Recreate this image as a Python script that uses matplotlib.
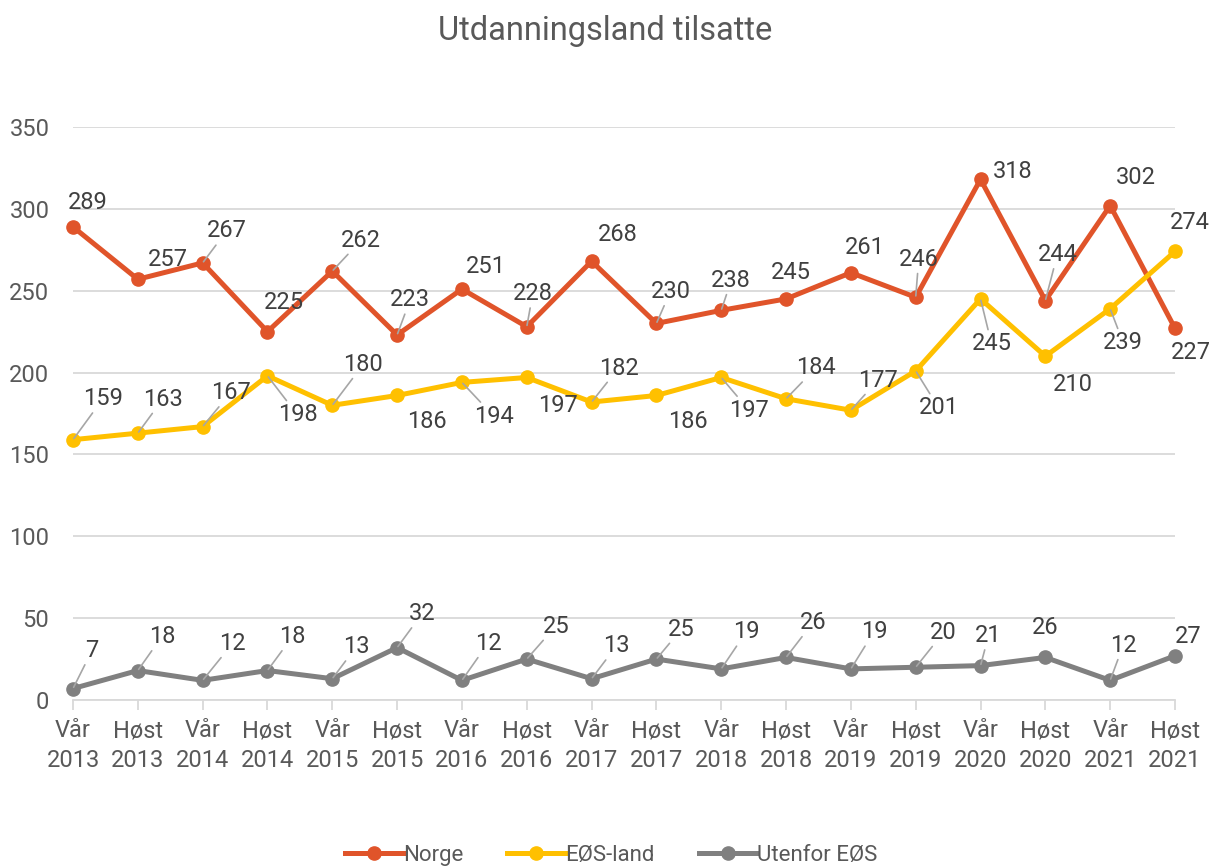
import matplotlib
matplotlib.use("Agg")
import matplotlib.pyplot as plt
from matplotlib.lines import Line2D

plt.rcParams['font.family'] = ['Roboto', 'DejaVu Sans']

categories = ["Vår\n2013", "Høst\n2013", "Vår\n2014", "Høst\n2014", "Vår\n2015", "Høst\n2015",
              "Vår\n2016", "Høst\n2016", "Vår\n2017", "Høst\n2017", "Vår\n2018", "Høst\n2018",
              "Vår\n2019", "Høst\n2019", "Vår\n2020", "Høst\n2020", "Vår\n2021", "Høst\n2021"]
norge = [289, 257, 267, 225, 262, 223, 251, 228, 268, 230, 238, 245, 261, 246, 318, 244, 302, 227]
eos = [159, 163, 167, 198, 180, 186, 194, 197, 182, 186, 197, 184, 177, 201, 245, 210, 239, 274]
utenfor = [7, 18, 12, 18, 13, 32, 12, 25, 13, 25, 19, 26, 19, 20, 21, 26, 12, 27]
series_names = ["Norge", "EØS-land", "Utenfor EØS"]
yticks = [0, 50, 100, 150, 200, 250, 300, 350]

colors = ["#E0542A", "#FFC000", "#808080"]

# label offsets in pixels (dx, dy with y up) and leader-line flags (layout only)
off_norge = [(15, 24), (30, 20), (24, 32), (16, 29), (29, 31), (13, 35), (24, 23), (6, 33),
             (26, 27), (14, 32), (10, 30), (5, 26), (14, 25), (3, 38), (32, 8), (12, 46),
             (26, 28), (16, -24)]
lead_norge = [0, 0, 1, 0, 1, 1, 0, 1, 0, 1, 1, 0, 0, 1, 0, 1, 0, 0]
off_eos = [(30, 41), (25, 34), (28, 34), (30, -39), (31, 41), (30, -26), (32, -34), (31, -28),
           (27, 34), (31, -26), (28, -33), (30, 31), (27, 30), (23, -37), (11, -45), (28, -28),
           (13, -34), (15, 29)]
lead_eos = [1, 1, 1, 1, 1, 0, 1, 0, 1, 0, 1, 1, 1, 1, 1, 0, 1, 0]
off_ut = [(19, 38), (24, 34), (30, 37), (25, 34), (24, 32), (25, 34), (26, 37), (29, 33),
          (25, 33), (25, 30), (25, 37), (27, 35), (23, 37), (28, 35), (8, 30), (0, 30),
          (13, 35), (13, 19)]
lead_ut = [1, 1, 1, 1, 1, 1, 1, 1, 1, 1, 1, 1, 1, 1, 1, 0, 1, 0]

W, H = 1210, 866
fig = plt.figure(figsize=(W / 100, H / 100), dpi=100)
left, right, top, bottom = 73, 1175, 127, 700
ax = fig.add_axes([left / W, 1 - bottom / H, (right - left) / W, (bottom - top) / H])

x = list(range(len(categories)))
ax.set_xlim(0, len(categories) - 1)
ax.set_ylim(0, 350)
ax.set_yticks(yticks)
ax.yaxis.grid(True, color="#D9D9D9", linewidth=1.3)
ax.set_axisbelow(True)
for s in ["top", "right", "left"]:
    ax.spines[s].set_visible(False)
ax.spines["bottom"].set_color("#D9D9D9")
ax.spines["bottom"].set_linewidth(1.3)
ax.set_xticks(x)
ax.set_xticklabels(categories, linespacing=1.38)
ax.tick_params(axis="x", length=7, width=1.3, color="#D9D9D9", pad=7,
               labelsize=17, labelcolor="#595959")
ax.tick_params(axis="y", length=0, pad=17, labelsize=17, labelcolor="#595959")

px = 72 / 100  # points per pixel
data_sets = [(norge, off_norge, lead_norge), (eos, off_eos, lead_eos), (utenfor, off_ut, lead_ut)]
for (vals, offs, leads), c, name in zip(data_sets, colors, series_names):
    ax.plot(x, vals, color=c, linewidth=3.6, marker="o", markersize=9.5,
            clip_on=False, label=name, zorder=3, solid_capstyle="round")
    for xi, v, (dx, dy), ld in zip(x, vals, offs, leads):
        kw = {}
        if ld:
            kw["arrowprops"] = dict(arrowstyle="-", color="#A6A6A6", lw=1.2,
                                    shrinkA=0, shrinkB=1)
        ax.annotate(str(v), xy=(xi, v), xytext=(dx * px, dy * px), textcoords="offset points",
                    ha="center", va="center", fontsize=17, color="#404040",
                    zorder=5, annotation_clip=False, **kw)

fig.text(0.5, 1 - 31 / H, "Utdanningsland tilsatte", ha="center", va="center",
         fontsize=23.5, color="#595959")

handles = [Line2D([0], [0], color=c, linewidth=3.6, marker="o", markersize=9.5) for c in colors]
fig.legend(handles, series_names, loc="center", bbox_to_anchor=(0.505, 1 - 855 / H),
           ncol=3, frameon=False, fontsize=16, handlelength=2.6, handletextpad=0.0,
           columnspacing=2.0, labelcolor="#595959")

fig.savefig("out.png", dpi=100)
